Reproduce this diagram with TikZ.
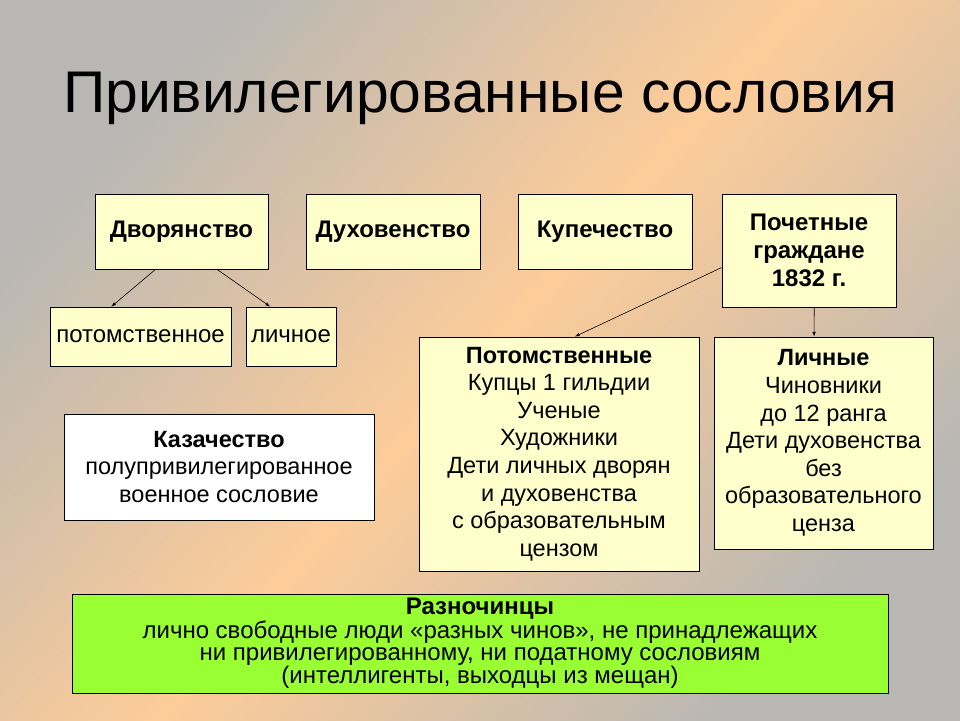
\documentclass[tikz,border=0pt]{standalone}
\usepackage{fontspec}
\setmainfont{Liberation Sans}
\usetikzlibrary{calc}

\definecolor{bggray}{RGB}{184,183,180}
\definecolor{bgpeach}{RGB}{253,204,153}
\definecolor{boxyellow}{RGB}{255,255,204}
\definecolor{boxgreen}{RGB}{153,255,51}

\begin{document}
\begin{tikzpicture}[x=1pt, y=-1pt, >=latex,
  box/.style={draw=black, line width=0.9pt, fill=boxyellow, inner sep=0pt,
    align=center, font=\fontsize{23.5}{27.6}\selectfont},
  toprow/.style={box, font=\fontsize{24}{28}\selectfont},
  arrowline/.style={->, line width=0.6pt}]

  \newcommand\TOPROW{231.5};
  \newcommand\SUBROW{336.5};

  % background
  \shade[top color=bggray, bottom color=bggray, middle color=bgpeach, shading angle=48]
  (0,0) rectangle (960,720);

  \node[anchor=base] (title) at (480,112.5)
  {\fontsize{58.8}{60}\selectfont Привилегированные сословия};

  % top row
  \node[toprow, minimum width=173pt, minimum height=75pt] (dvor) at (181.5,\TOPROW) {\textbf{Дворянство}};
  \node[toprow, minimum width=174pt, minimum height=75pt] (dukh) at (393,\TOPROW) {\textbf{Духовенство}};
  \node[toprow, minimum width=174pt, minimum height=75pt] (kup) at (605,\TOPROW) {\textbf{Купечество}};
  \node[toprow, minimum width=174pt, minimum height=113pt] (poch) at (809,250.5)
  {\textbf{Почетные}\\\textbf{граждане}\\\textbf{1832 г.}};

  % dvoryanstvo
  \node[toprow, minimum width=181pt, minimum height=59pt] (potn) at (140.5,\SUBROW) {потомственное};
  \node[toprow, minimum width=90pt, minimum height=59pt] (lichn) at (291,\SUBROW) {личное};

  \node[box, fill=white, minimum width=310pt, minimum height=106pt] (kaz) at (219,467)
  {\textbf{Казачество}\\полупривилегированное\\военное сословие};

  % pochetnye grazhdane
  \node[box, minimum width=280pt, minimum height=234pt] (potgr) at (559,454)
  {\textbf{Потомственные}\\Купцы 1 гильдии\\Ученые\\Художники\\Дети личных дворян\\и духовенства\\с образовательным\\цензом};
  \node[box, minimum width=219pt, minimum height=212pt] (lichgr) at (823.5,443)
  {\textbf{Личные}\\Чиновники\\до 12 ранга\\Дети духовенства\\без\\образовательного\\ценза};

  \node[box, fill=boxgreen, minimum width=816pt, minimum height=99pt,
    font=\fontsize{24}{22}\selectfont] (razn) at (480,643.5)
  {\textbf{Разночинцы}\\лично свободные люди «разных чинов», не принадлежащих\\ни привилегированному, ни податному сословиям\\(интеллигенты, выходцы из мещан)};

  \draw[arrowline] ($(dvor.south west)!0.35!(dvor.south east)$) -- ($(potn.north west)!0.34!(potn.north east)$);
  \draw[arrowline] ($(dvor.south west)!0.705!(dvor.south east)$) -- ($(lichn.north west)!0.27!(lichn.north east)$);

  \draw[arrowline] ($(poch.north west)!0.65!(poch.south west)$) -- ($(potgr.north west)!0.557!(potgr.north east)$);
  \draw[arrowline] ($(poch.south west)!0.53!(poch.south east)$) -- ($(lichgr.north west)!0.457!(lichgr.north east)$);

\end{tikzpicture}
\end{document}
